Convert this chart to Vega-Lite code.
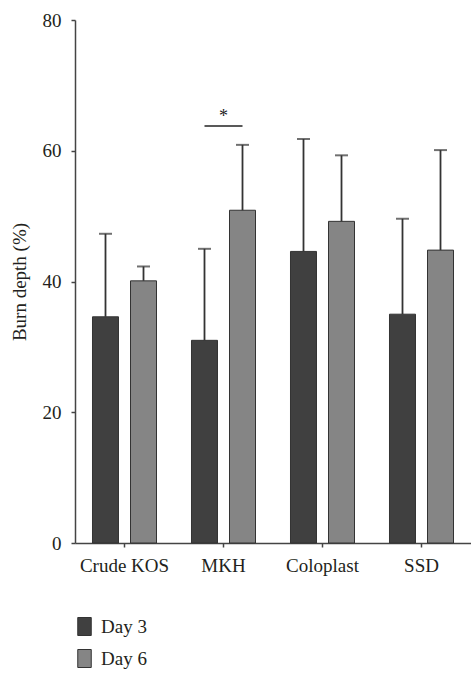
{
  "$schema": "https://vega.github.io/schema/vega-lite/v6.json",
  "autosize": {"type": "none"},
  "padding": {"left": 75, "top": 20, "right": 0, "bottom": 144},
  "width": 396,
  "height": 523,
  "background": "white",
  "config": {
    "view": {"stroke": null},
    "font": "Liberation Serif",
    "axis": {"labelFont": "Liberation Serif", "titleFont": "Liberation Serif", "labelFontSize": 19, "titleFontSize": 19, "labelColor": "#231f20", "titleColor": "#231f20", "domainColor": "#444", "tickColor": "#444", "domainWidth": 1.5, "tickWidth": 1.5, "grid": false, "titleFontWeight": "normal"},
    "legend": {"labelFont": "Liberation Serif", "labelFontSize": 19, "labelColor": "#231f20"}
  },
  "datasets": {
    "bars": [
      {"group": "Crude KOS", "series": "Day 3", "value": 34.6, "err": 47.3},
      {"group": "Crude KOS", "series": "Day 6", "value": 40.1, "err": 42.3},
      {"group": "MKH", "series": "Day 3", "value": 31.0, "err": 45.0},
      {"group": "MKH", "series": "Day 6", "value": 50.9, "err": 60.9},
      {"group": "Coloplast", "series": "Day 3", "value": 44.6, "err": 61.8},
      {"group": "Coloplast", "series": "Day 6", "value": 49.2, "err": 59.3},
      {"group": "SSD", "series": "Day 3", "value": 35.0, "err": 49.6},
      {"group": "SSD", "series": "Day 6", "value": 44.8, "err": 60.1}
    ],
    "sig": [
      {"group": "MKH", "series": "Day 3", "y": 63.8},
      {"group": "MKH", "series": "Day 6", "y": 63.8}
    ],
    "star": [
      {"group": "MKH", "y": 65.6, "label": "*"}
    ]
  },
  "layer": [
    {
      "data": {"name": "bars"},
      "mark": {"type": "bar", "stroke": "#333", "strokeWidth": 1},
      "encoding": {
        "x": {"field": "group", "type": "nominal", "sort": ["Crude KOS", "MKH", "Coloplast", "SSD"], "scale": {"paddingInner": 0, "paddingOuter": 0}, "axis": {"title": null, "labelAngle": 0, "tickSize": 4, "labelPadding": 9}},
        "xOffset": {"field": "series", "type": "nominal", "scale": {"paddingInner": 0.3158, "paddingOuter": 0.4605}},
        "y": {"field": "value", "type": "quantitative", "scale": {"domain": [0, 80]}, "axis": {"title": "Burn depth (%)", "values": [0, 20, 40, 60, 80], "tickSize": 4, "labelPadding": 10, "titlePadding": 13}},
        "fill": {"field": "series", "type": "nominal", "scale": {"domain": ["Day 3", "Day 6"], "range": ["#404040", "#858585"]}, "legend": {"title": null, "orient": "none", "legendX": 0, "legendY": 597, "padding": 0, "rowPadding": 9, "labelOffset": 7, "symbolType": "M-0.75,-1H0.75V1H-0.75Z", "symbolSize": 324, "symbolStrokeColor": "#333", "symbolStrokeWidth": 1}}
      }
    },
    {
      "data": {"name": "bars"},
      "mark": {"type": "rule", "color": "#333", "strokeWidth": 1.8},
      "encoding": {
        "x": {"field": "group", "type": "nominal", "sort": ["Crude KOS", "MKH", "Coloplast", "SSD"]},
        "xOffset": {"field": "series", "type": "nominal"},
        "y": {"field": "value", "type": "quantitative"},
        "y2": {"field": "err"}
      }
    },
    {
      "data": {"name": "bars"},
      "mark": {"type": "tick", "color": "#333", "thickness": 2, "size": 13, "orient": "horizontal"},
      "encoding": {
        "x": {"field": "group", "type": "nominal", "sort": ["Crude KOS", "MKH", "Coloplast", "SSD"]},
        "xOffset": {"field": "series", "type": "nominal"},
        "y": {"field": "err", "type": "quantitative"}
      }
    },
    {
      "data": {"name": "sig"},
      "mark": {"type": "line", "color": "#222", "strokeWidth": 1.5},
      "encoding": {
        "x": {"field": "group", "type": "nominal", "sort": ["Crude KOS", "MKH", "Coloplast", "SSD"]},
        "xOffset": {"field": "series", "type": "nominal"},
        "y": {"field": "y", "type": "quantitative"}
      }
    },
    {
      "data": {"name": "star"},
      "mark": {"type": "text", "font": "Liberation Serif", "fontSize": 18, "color": "#222", "baseline": "middle", "dy": 3},
      "encoding": {
        "x": {"field": "group", "type": "nominal", "sort": ["Crude KOS", "MKH", "Coloplast", "SSD"]},
        "y": {"field": "y", "type": "quantitative"},
        "text": {"field": "label"}
      }
    }
  ]
}
